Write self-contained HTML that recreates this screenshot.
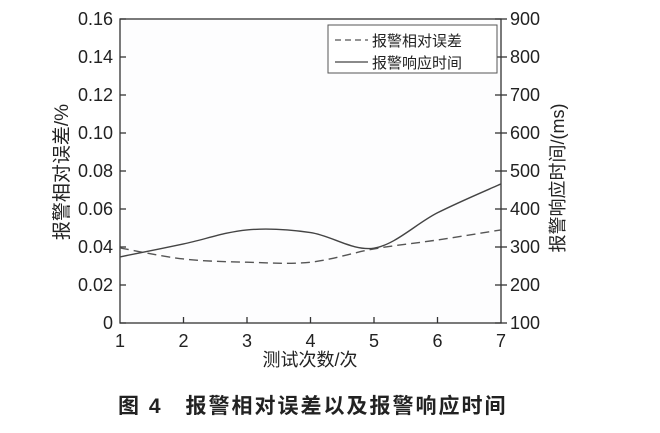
<!DOCTYPE html>
<html><head><meta charset="utf-8"><style>
body{margin:0;background:#fff;}
svg text{font-family:"Liberation Sans","Noto Sans CJK SC",sans-serif;fill:#222;}
</style></head><body>
<svg width="660" height="428" viewBox="0 0 660 428">
<rect x="120" y="19" width="381" height="304" fill="#fdfdfe" stroke="#333" stroke-width="1.3"/>
<g id="axes"></g>
<g id="series"></g>
<g>
<rect x="328" y="25" width="169" height="48" fill="#fff" stroke="#555" stroke-width="1"/>
<line x1="335" y1="40" x2="368" y2="40" stroke="#555" stroke-width="1.3" stroke-dasharray="6,4"/>
<text x="372" y="46" font-size="15">报警相对误差</text>
<line x1="335" y1="62" x2="368" y2="62" stroke="#444" stroke-width="1.3"/>
<text x="372" y="68" font-size="15">报警响应时间</text>
</g>
<text transform="translate(68,172) rotate(-90)" text-anchor="middle" font-size="19">报警相对误差/%</text>
<text transform="translate(564,178) rotate(-90)" text-anchor="middle" font-size="18">报警响应时间/(ms)</text>
<text x="310" y="366" text-anchor="middle" font-size="18">测试次数/次</text>
<text x="118" y="413" font-size="21" font-weight="bold" letter-spacing="2">图 4　报警相对误差以及报警响应时间</text>
</svg>
<script>
const xCats=[1,2,3,4,5,6,7];
const errVals=[0.0395,0.0337,0.032,0.032,0.039,0.0437,0.049];
const timeVals=[274,308,345,338,297,390,466];
const leftTicks=[0,0.02,0.04,0.06,0.08,0.10,0.12,0.14,0.16];
const leftLabels=["0","0.02","0.04","0.06","0.08","0.10","0.12","0.14","0.16"];
const rightTicks=[100,200,300,400,500,600,700,800,900];
const NS="http://www.w3.org/2000/svg";
const X=v=>120+(v-1)*63.5;
const YL=v=>323-v/0.16*304;
const YR=v=>323-(v-100)/800*304;
function mk(t,a,p){const e=document.createElementNS(NS,t);for(const k in a)e.setAttribute(k,a[k]);p.appendChild(e);return e;}
const ax=document.getElementById('axes');
xCats.forEach(c=>{
 if(c>1&&c<7){const l=mk('line',{x1:X(c),x2:X(c),y1:323,y2:317,stroke:'#333','stroke-width':1.3},ax);
 
 }
 const t=mk('text',{x:X(c),y:347,'text-anchor':'middle','font-size':18},ax);t.textContent=c;
 
 
});
leftTicks.forEach((v,i)=>{
 const l=mk('line',{x1:120,x2:126,y1:YL(v),y2:YL(v),stroke:'#333','stroke-width':1.3},ax);
 
 
 const t=mk('text',{x:113,y:YL(v)+6,'text-anchor':'end','font-size':18},ax);t.textContent=leftLabels[i];
 
 
});
rightTicks.forEach(v=>{
 const l=mk('line',{x1:495,x2:507,y1:YR(v),y2:YR(v),stroke:'#333','stroke-width':1.3},ax);
 
 
 const t=mk('text',{x:510,y:YR(v)+6,'font-size':18},ax);t.textContent=v;
 
 
});
function smooth(pts){
 let d=`M${pts[0][0]},${pts[0][1]}`;
 for(let i=0;i<pts.length-1;i++){
  const p0=pts[Math.max(0,i-1)],p1=pts[i],p2=pts[i+1],p3=pts[Math.min(pts.length-1,i+2)];
  const c1=[p1[0]+(p2[0]-p0[0])/6,p1[1]+(p2[1]-p0[1])/6];
  const c2=[p2[0]-(p3[0]-p1[0])/6,p2[1]-(p3[1]-p1[1])/6];
  d+=` C${c1[0]},${c1[1]} ${c2[0]},${c2[1]} ${p2[0]},${p2[1]}`;
 }
 return d;
}
const sg=document.getElementById('series');
const e=mk('path',{d:smooth(xCats.map((c,i)=>[X(c),YL(errVals[i])])),fill:'none',stroke:'#555','stroke-width':1.4,'stroke-dasharray':'9,5'},sg);


const s=mk('path',{d:smooth(xCats.map((c,i)=>[X(c),YR(timeVals[i])])),fill:'none',stroke:'#444','stroke-width':1.4},sg);


</script>
</body></html>
